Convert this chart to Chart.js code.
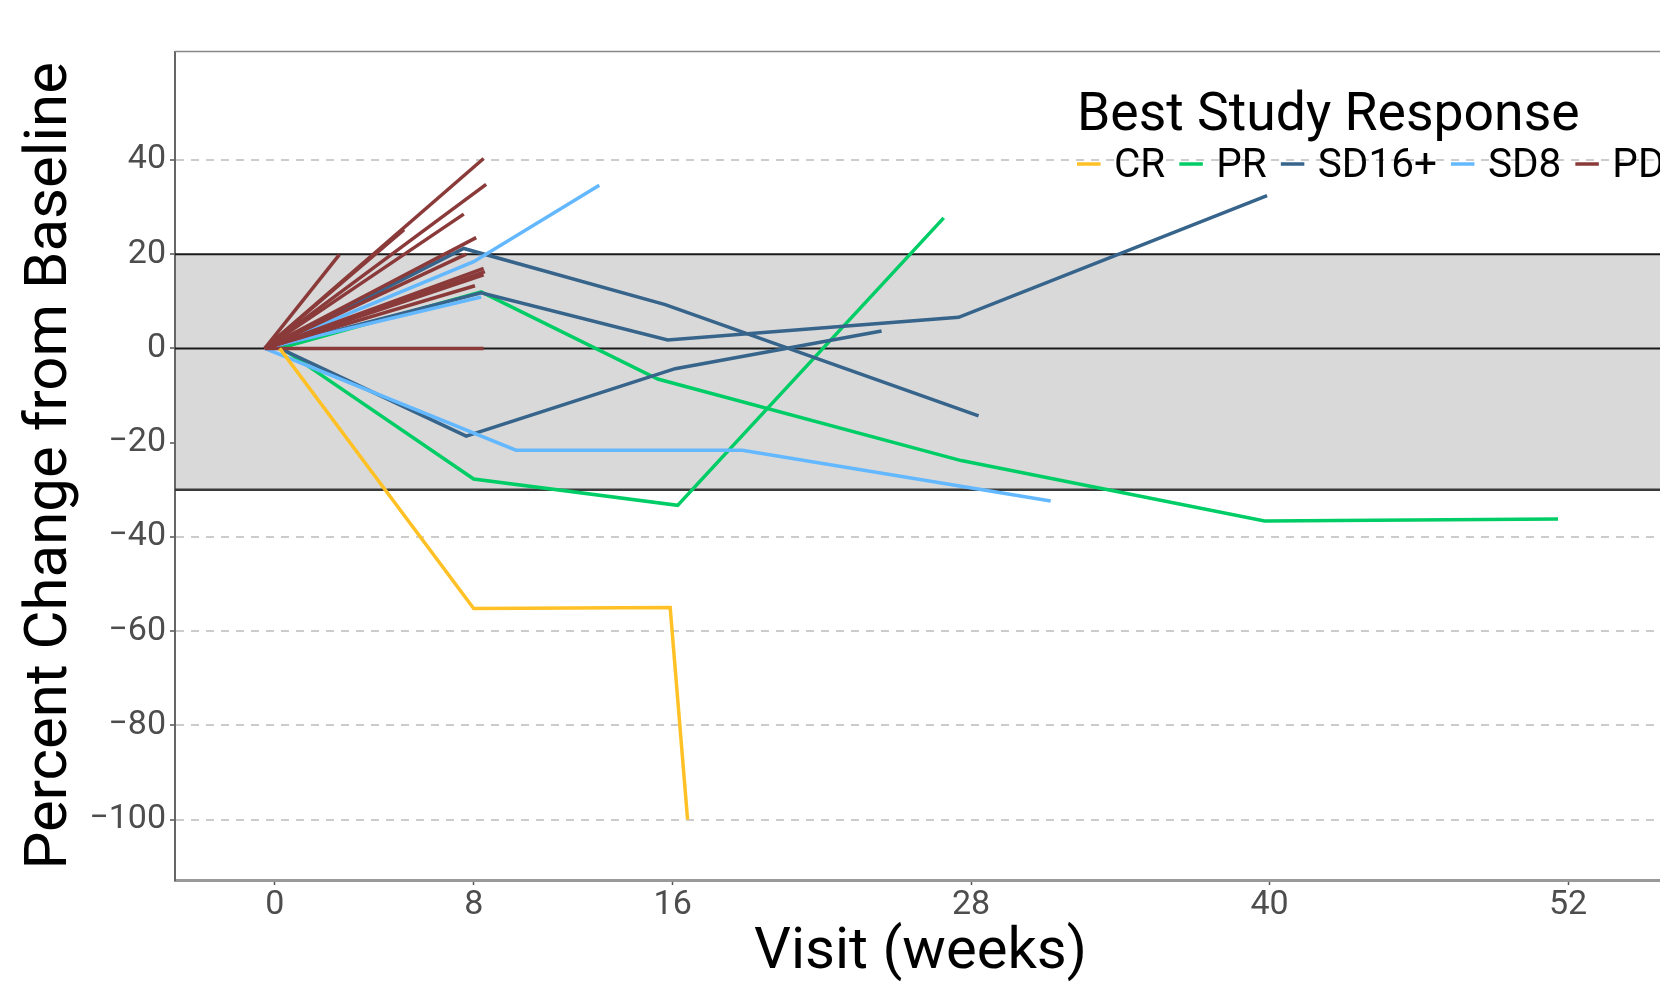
<!DOCTYPE html>
<html lang="en">
<head>
<meta charset="UTF-8">
<title>Percent Change from Baseline</title>
<script src="https://cdn.jsdelivr.net/npm/chart.js"></script>
<style>
    html, body {
        margin: 0;
        padding: 0;
        background: #ffffff;
        overflow: hidden;
    }
    #spider {
        display: block;
    }
</style>
</head>
<body>
<canvas id="spider" width="1666" height="988"></canvas>
<script>
// values
const responseCategories = ['CR', 'PR', 'SD16+', 'SD8', 'PD'];
const responseColors = ['#FFC125', '#00CD66', '#36648B', '#63B8FF', '#8B3A3A'];
const xTicks = [0, 8, 16, 28, 40, 52];
const yTicks = [40, 20, 0, -20, -40, -60, -80, -100];
const dashedTicks = [40, -40, -60, -80, -100];

// one inner array per patient: visit week and percent change
const crWeeks = [[0.2, 8.0, 15.9, 16.6]];
const crChange = [[0, -55.2, -55.0, -100]];

const prWeeks = [
    [0.3, 8.0, 16.2, 26.9],
    [0.2, 8.3, 15.4, 27.6, 39.8, 51.6]
];
const prChange = [
    [0, -27.7, -33.3, 27.7],
    [0, 12.0, -6.5, -23.8, -36.6, -36.2]
];

const sd16Weeks = [
    [0.2, 7.7, 16.1, 24.4],
    [-0.3, 8.3, 15.8, 27.5, 39.9],
    [-0.3, 7.6, 15.7, 28.3]
];
const sd16Change = [
    [0, -18.6, -4.3, 3.7],
    [0, 11.8, 1.8, 6.6, 32.4],
    [0, 21.2, 9.3, -14.3]
];

const sd8Weeks = [
    [-0.4, 8.0, 13.05],
    [-0.4, 8.3],
    [-0.4, 9.7, 18.8, 31.2]
];
const sd8Change = [
    [0, 18.4, 34.6],
    [0, 10.9],
    [0, -21.6, -21.6, -32.4]
];

const pdWeeks = [
    [-0.4, 8.4], [-0.4, 8.5], [-0.4, 7.6], [-0.4, 5.2], [-0.4, 2.6], [-0.4, 8.1],
    [-0.4, 7.7], [-0.4, 8.4], [-0.4, 8.45], [-0.4, 8.4], [-0.4, 8.05], [-0.4, 8.4]
];
const pdChange = [
    [0, 40.3], [0, 34.8], [0, 28.5], [0, 25.2], [0, 19.9], [0, 23.5],
    [0, 20.0], [0, 17.0], [0, 16.3], [0, 15.6], [0, 13.3], [0, 0]
];

// shaded stable-disease band and its reference lines
const bandTop = 20;
const bandBottom = -30;

function patientSets(weeks, change, color) {
    return weeks.map((w, i) => ({
        data: w.map((x, j) => ({ x: x, y: change[i][j] })),
        borderColor: color,
        borderWidth: 3.5,
        pointRadius: 0,
        tension: 0,
        fill: false
    }));
}

// first dataset is painted last (on top)
const datasets = [
    ...patientSets(crWeeks, crChange, responseColors[0]),
    ...patientSets(pdWeeks, pdChange, responseColors[4]),
    ...patientSets(sd8Weeks, sd8Change, responseColors[3]),
    ...patientSets(sd16Weeks, sd16Change, responseColors[2]),
    ...patientSets(prWeeks, prChange, responseColors[1])
];

const tickFont = { family: 'Roboto', size: 34, lineHeight: 1.0 };

// grey band with the black lines at 20, 0 and -30
const bandPlugin = {
    id: 'band',
    beforeDatasetsDraw(chart) {
        const { ctx, chartArea } = chart;
        const y = chart.scales.y;
        const yTop = y.getPixelForValue(bandTop);
        const yBot = y.getPixelForValue(bandBottom);
        ctx.save();
        ctx.fillStyle = '#D9D9D9';
        ctx.fillRect(chartArea.left + 1, yTop, chartArea.right - chartArea.left, yBot - yTop);
        [[bandTop, '#1A1A1A', 2], [0, '#1A1A1A', 2], [bandBottom, '#3A3A3A', 2.5]].forEach(([v, c, w]) => {
            const py = y.getPixelForValue(v);
            ctx.strokeStyle = c;
            ctx.lineWidth = w;
            ctx.beginPath();
            ctx.moveTo(chartArea.left, py);
            ctx.lineTo(chartArea.right, py);
            ctx.stroke();
        });
        ctx.restore();
    }
};

// panel top edge and the legend that sits inside the panel
const legendPlugin = {
    id: 'responseLegend',
    afterDraw(chart) {
        const { ctx, chartArea } = chart;
        ctx.save();
        ctx.strokeStyle = '#888888';
        ctx.lineWidth = 1.5;
        ctx.beginPath();
        ctx.moveTo(chartArea.left, chartArea.top);
        ctx.lineTo(chartArea.right, chartArea.top);
        ctx.stroke();

        ctx.fillStyle = '#000000';
        ctx.textBaseline = 'alphabetic';
        ctx.textAlign = 'left';
        ctx.font = '53.5px Roboto';
        ctx.fillText('Best Study Response', 1077, 130);

        ctx.font = '40.5px Roboto';
        let x = 1077;
        responseCategories.forEach((name, i) => {
            ctx.strokeStyle = responseColors[i];
            ctx.lineWidth = 3.5;
            ctx.beginPath();
            ctx.moveTo(x, 164);
            ctx.lineTo(x + 23.5, 164);
            ctx.stroke();
            x += 23.5 + 13.5;
            ctx.fillText(name, x, 177);
            x += ctx.measureText(name).width + 14;
        });
        ctx.restore();
    }
};

new Chart(document.getElementById('spider'), {
    type: 'line',
    data: { datasets: datasets },
    options: {
        responsive: false,
        animation: false,
        devicePixelRatio: 1,
        layout: { padding: { top: 51.5, left: 0, right: 0, bottom: 0 } },
        plugins: {
            legend: { display: false },
            tooltip: { enabled: false }
        },
        scales: {
            x: {
                type: 'linear',
                min: -4.01,
                max: 55.94,
                afterBuildTicks: (scale) => { scale.ticks = xTicks.map(v => ({ value: v })); },
                afterFit: (scale) => { scale.height = 108; },
                ticks: {
                    color: '#4D4D4D',
                    font: tickFont,
                    padding: 3,
                    maxRotation: 0,
                    autoSkip: false
                },
                grid: {
                    drawOnChartArea: false,
                    drawTicks: true,
                    tickLength: 5,
                    tickColor: '#555555',
                    tickWidth: 1.5
                },
                border: { display: true, color: '#999999', width: 3 },
                title: {
                    display: true,
                    text: 'Visit (weeks)',
                    color: '#000000',
                    font: { family: 'Roboto', size: 58, lineHeight: 1.2 },
                    padding: { top: 0, bottom: 0 }
                }
            },
            y: {
                type: 'linear',
                min: -112.8,
                max: 63,
                afterBuildTicks: (scale) => { scale.ticks = yTicks.map(v => ({ value: v })); },
                afterFit: (scale) => { scale.width = 175; },
                ticks: {
                    color: '#4D4D4D',
                    font: tickFont,
                    padding: 4,
                    autoSkip: false,
                    callback: (v) => String(v).replace('-', '\u2212')
                },
                grid: {
                    color: (c) => (c.tick && dashedTicks.includes(c.tick.value)) ? '#CCCCCC' : 'rgba(0,0,0,0)',
                    lineWidth: 2,
                    drawTicks: true,
                    tickLength: 5,
                    tickColor: '#555555',
                    tickWidth: 1.5
                },
                border: { display: true, color: '#666666', width: 2, dash: [8, 7] },
                title: {
                    display: true,
                    text: 'Percent Change from Baseline',
                    color: '#000000',
                    font: { family: 'Roboto', size: 60, lineHeight: 1.2 },
                    padding: { top: 15, bottom: 0 }
                }
            }
        }
    },
    plugins: [bandPlugin, legendPlugin]
});
</script>
</body>
</html>
